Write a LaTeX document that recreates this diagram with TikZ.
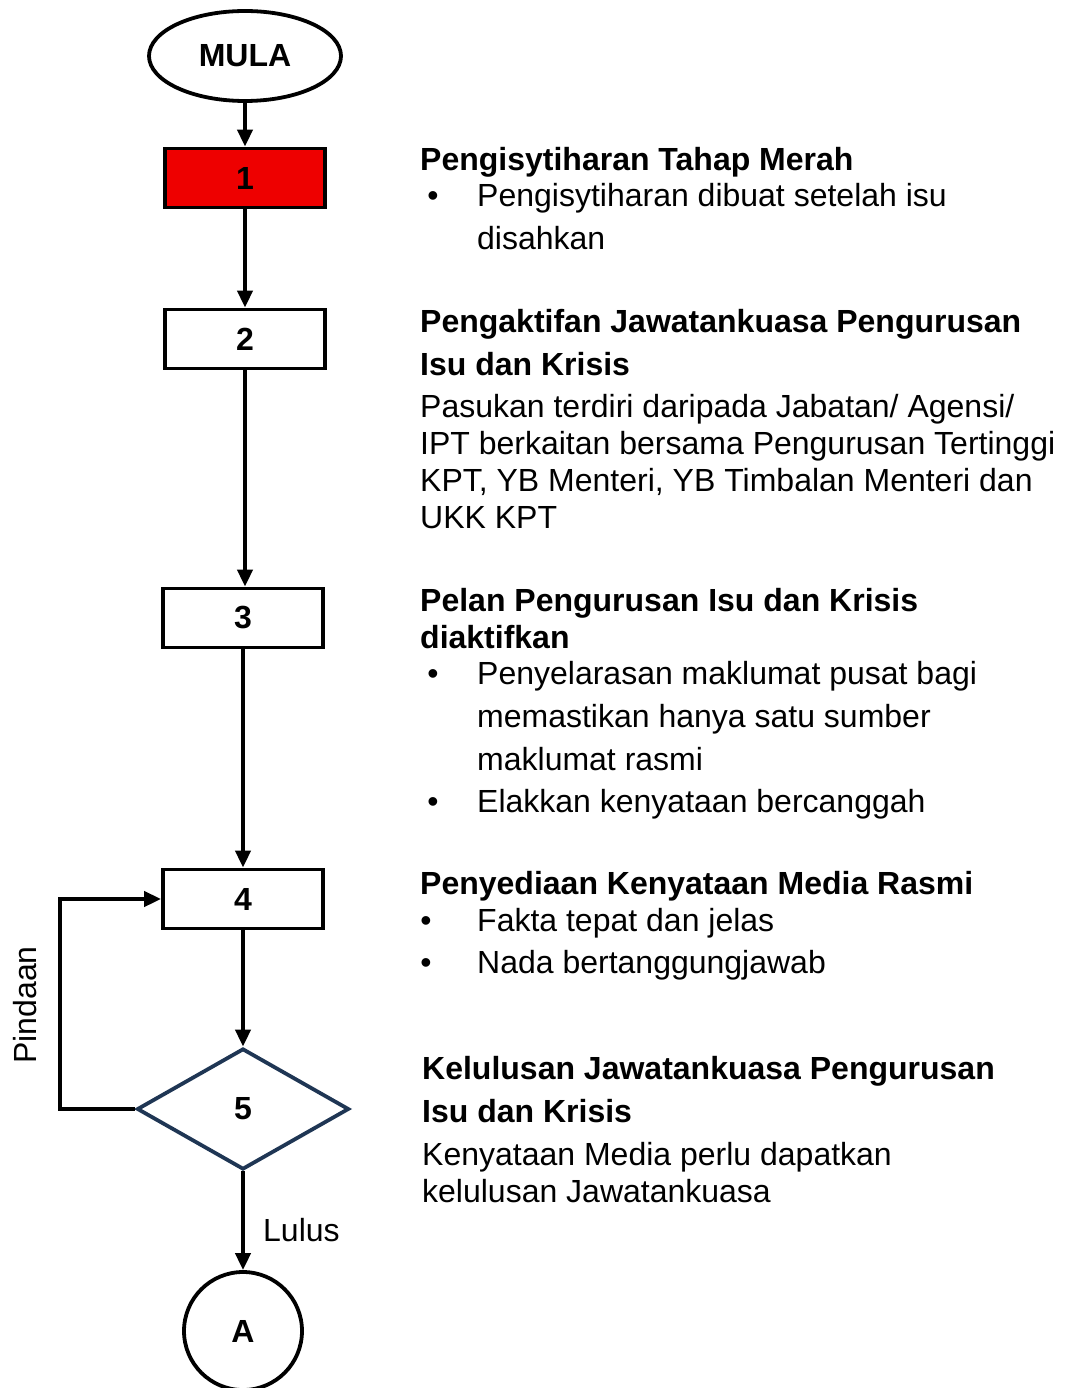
\documentclass[tikz,border=0pt]{standalone}
\usepackage{fontspec}
\setmainfont{Liberation Sans}
\usetikzlibrary{arrows.meta,shapes.geometric}
\definecolor{merah}{RGB}{238,0,0}
\definecolor{biru}{RGB}{31,54,84}
\begin{document}
\begin{tikzpicture}[x=1pt,y=-1pt,line join=miter,>={Triangle[length=17pt,width=15pt]}]
			\tikzset{
				flow/.style={line width=4pt,->},
				stepbox/.style={draw,line width=3.8pt,minimum width=160pt,minimum height=59pt,inner sep=0pt,font=\bfseries\fontsize{32}{38}\selectfont},
				head/.style={anchor=base west,inner sep=0pt,font=\bfseries\fontsize{32}{38}\selectfont},
				body/.style={anchor=base west,inner sep=0pt,font=\fontsize{32}{38}\selectfont},
				dot/.style={anchor=base,inner sep=0pt,font=\fontsize{32}{38}\selectfont}
			}
			\useasboundingbox (0,0) rectangle (1070,1388);
			% carta alir
			\node[stepbox,ellipse,minimum width=192pt,minimum height=90pt] (mula) at (245,56) {MULA};
			\node[stepbox,fill=merah] (s1) at (245,178) {1};
			\node[stepbox] (s2) at (245,339) {2};
			\node[stepbox] (s3) at (243,618) {3};
			\node[stepbox] (s4) at (243,899) {4};
			\node[stepbox,diamond,draw=biru,minimum width=212pt,minimum height=121pt] (s5) at (243,1109) {5};
			\node[stepbox,circle,minimum size=118pt] (a) at (243,1331) {A};
			\draw[flow] (mula) -- (s1);
			\draw[flow] (s1) -- (s2);
			\draw[flow] (s2) -- (s2 |- s3.north);
			\draw[flow] (s3) -- (s4);
			\draw[flow] (s4) -- (s5);
			\draw[flow] (s5) -- (a);
			\draw[flow] (s5.west) -- ++(-75,0) |- (s4.west);
			\node[body,anchor=center,rotate=90] (pindaan) at (25,1005) {Pindaan};
			\node[body,anchor=west] (lulus) at (263,1230) {Lulus};
			% keterangan
			\node[head] (h1) at (420,171) {Pengisytiharan Tahap Merah};
			\node[dot] (d1) at (433,207) {•};
			\node[body] (t1a) at (477,207) {Pengisytiharan dibuat setelah isu};
			\node[body] (t1b) at (477,250) {disahkan};
			\node[head] (h2a) at (420,332) {Pengaktifan Jawatankuasa Pengurusan};
			\node[head] (h2b) at (420,375) {Isu dan Krisis};
			\node[body] (t2a) at (420,417) {Pasukan terdiri daripada Jabatan/ Agensi/};
			\node[body] (t2b) at (420,454) {IPT berkaitan bersama Pengurusan Tertinggi};
			\node[body] (t2c) at (420,491) {KPT, YB Menteri, YB Timbalan Menteri dan};
			\node[body] (t2d) at (420,528) {UKK KPT};
			\node[head] (h3a) at (420,611) {Pelan Pengurusan Isu dan Krisis};
			\node[head] (h3b) at (420,648) {diaktifkan};
			\node[dot] (d3a) at (433,684) {•};
			\node[body] (t3a) at (477,684) {Penyelarasan maklumat pusat bagi};
			\node[body] (t3b) at (477,727) {memastikan hanya satu sumber};
			\node[body] (t3c) at (477,770) {maklumat rasmi};
			\node[dot] (d3b) at (433,812) {•};
			\node[body] (t3d) at (477,812) {Elakkan kenyataan bercanggah};
			\node[head] (h4) at (420,894) {Penyediaan Kenyataan Media Rasmi};
			\node[dot] (d4a) at (426,931) {•};
			\node[body] (t4a) at (477,931) {Fakta tepat dan jelas};
			\node[dot] (d4b) at (426,973) {•};
			\node[body] (t4b) at (477,973) {Nada bertanggungjawab};
			\node[head] (h5a) at (422,1079) {Kelulusan Jawatankuasa Pengurusan};
			\node[head] (h5b) at (422,1122) {Isu dan Krisis};
			\node[body] (t5a) at (422,1165) {Kenyataan Media perlu dapatkan};
			\node[body] (t5b) at (422,1202) {kelulusan Jawatankuasa};
		\end{tikzpicture}
\end{document}
